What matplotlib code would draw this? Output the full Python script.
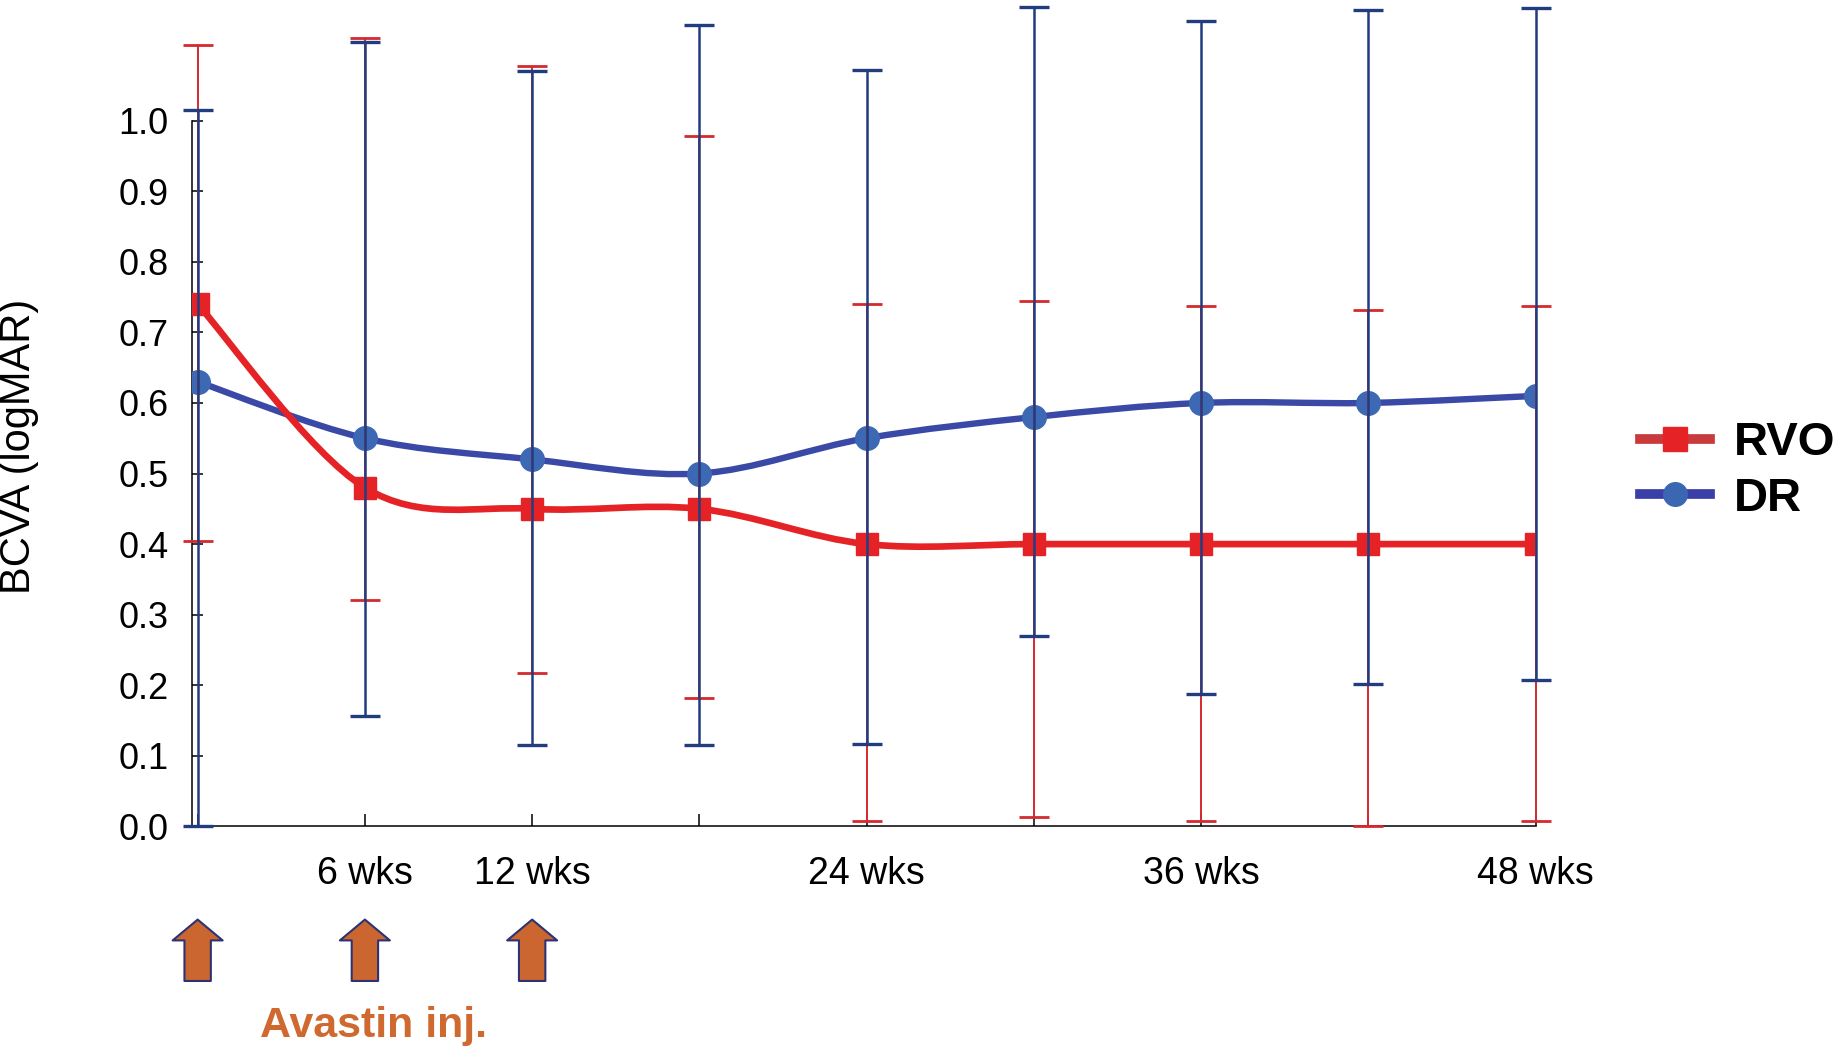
import numpy as np
import matplotlib
matplotlib.use("Agg")
import matplotlib.pyplot as plt
from matplotlib.path import Path
from matplotlib.patches import PathPatch
from matplotlib.lines import Line2D

plt.rcParams['font.family'] = ['Liberation Sans', 'DejaVu Sans']

# --- data ---
weeks = [0, 6, 12, 18, 24, 30, 36, 42, 48]
tick_labels = ['', '6 wks', '12 wks', '', '24 wks', '', '36 wks', '', '48 wks']

rvo_mean = [0.74, 0.48, 0.45, 0.45, 0.40, 0.40, 0.40, 0.40, 0.40]
rvo_upper = [1.107, 1.117, 1.077, 0.978, 0.740, 0.745, 0.738, 0.732, 0.738]
rvo_lower = [0.405, 0.321, 0.217, 0.182, 0.007, 0.013, 0.007, 0.0, 0.007]

dr_mean = [0.63, 0.55, 0.52, 0.50, 0.55, 0.58, 0.60, 0.60, 0.61]
dr_upper = [1.015, 1.111, 1.071, 1.135, 1.072, 1.161, 1.141, 1.157, 1.160]
dr_lower = [0.0, 0.157, 0.116, 0.116, 0.117, 0.270, 0.187, 0.202, 0.208]

injection_weeks = [0, 6, 12]

RED = '#E52226'
RED_ERR = '#D42A2E'
BLUE_LINE = '#3A48A6'
BLUE_MARK = '#3C68B4'
BLUE_ERR = '#223C80'
ORANGE = '#CB6631'


def smooth_path(xs, ys):
    # Excel-style smoothed line (Catmull-Rom as cubic Bezier), drawn in data coords
    pts = np.column_stack([xs, ys]).astype(float)
    verts = [pts[0]]
    codes = [Path.MOVETO]
    n = len(pts)
    for i in range(n - 1):
        p0 = pts[i - 1] if i > 0 else pts[i]
        p1 = pts[i]
        p2 = pts[i + 1]
        p3 = pts[i + 2] if i + 2 < n else pts[i + 1]
        verts += [p1 + (p2 - p0) / 6.0, p2 - (p3 - p1) / 6.0, p2]
        codes += [Path.CURVE4] * 3
    return Path(verts, codes)


fig = plt.figure(figsize=(18.38, 10.61), dpi=100)
ax = fig.add_axes([0.1045, 0.2211, 0.731, 0.7783])

# mean curves
ax.add_patch(PathPatch(smooth_path(weeks, dr_mean), fill=False, edgecolor=BLUE_LINE,
                       lw=4.6, zorder=2, capstyle='round'))
ax.add_patch(PathPatch(smooth_path(weeks, rvo_mean), fill=False, edgecolor=RED,
                       lw=4.8, zorder=2.1, capstyle='round'))
ax.plot(weeks, dr_mean, ls='none', marker='o', ms=17, mfc=BLUE_MARK, mec=BLUE_MARK, zorder=3)
ax.plot(weeks, rvo_mean, ls='none', marker='s', ms=16, mfc=RED, mec=RED, zorder=3.1)

# error bars (drawn on top, as in the original)
rvo_err = [np.subtract(rvo_mean, rvo_lower), np.subtract(rvo_upper, rvo_mean)]
dr_err = [np.subtract(dr_mean, dr_lower), np.subtract(dr_upper, dr_mean)]
e1 = ax.errorbar(weeks, rvo_mean, yerr=rvo_err, fmt='none', ecolor=RED_ERR,
                 elinewidth=1.4, capsize=11, capthick=2.0, zorder=4)
e2 = ax.errorbar(weeks, dr_mean, yerr=dr_err, fmt='none', ecolor=BLUE_ERR,
                 elinewidth=1.8, capsize=11, capthick=2.4, zorder=4.1)
for e in (e1, e2):
    for art in e.get_children():
        art.set_clip_on(False)

ax.set_xlim(-0.2, 48)
ax.set_ylim(0, 1.17)
ax.set_xticks(weeks)
ax.set_xticklabels(tick_labels)
ax.set_yticks(np.arange(0, 1.01, 0.1))
ax.set_yticklabels([f'{v:.1f}' for v in np.arange(0, 1.01, 0.1)])
ax.tick_params(axis='x', direction='in', length=9, width=1.1, labelsize=27, pad=21)
ax.tick_params(axis='y', direction='in', length=8, width=1.1, labelsize=26, pad=17)
ax.spines['top'].set_visible(False)
ax.spines['right'].set_visible(False)
ax.spines['left'].set_bounds(0, 1.0)
for s in ('left', 'bottom'):
    ax.spines[s].set_linewidth(1.1)
ax.set_ylabel('BCVA (logMAR)', fontsize=30)
ax.yaxis.set_label_coords(-0.114, 0.46)

# injection arrows
for wk in injection_weeks:
    ax.annotate('', xy=(wk, -0.132), xytext=(wk, -0.219), annotation_clip=False,
                arrowprops=dict(arrowstyle='simple,head_length=1.5,head_width=3.6,tail_width=1.9',
                                mutation_scale=10, fc=ORANGE, ec='#2D3372', lw=1.5,
                                shrinkA=0, shrinkB=0))
ax.text(6.3, -0.283, 'Avastin inj.', color='#D0692F', fontsize=31, fontweight='bold',
        ha='center', va='center', clip_on=False)

# legend
handles = [
    Line2D([], [], color='#C93A3C', lw=7, marker='s', ms=17, mfc=RED, mec=RED),
    Line2D([], [], color='#3A3FA8', lw=7, marker='o', ms=17, mfc='#3A66B2', mec='#3A66B2'),
]
fig.legend(handles, ['RVO', 'DR'], loc='center left', bbox_to_anchor=(0.8925, 0.556),
           frameon=False, handlelength=1.47, handletextpad=0.5, labelspacing=0.25,
           borderpad=0, borderaxespad=0, prop={'size': 34, 'weight': 'bold'})

fig.savefig('out.png', dpi=100)
